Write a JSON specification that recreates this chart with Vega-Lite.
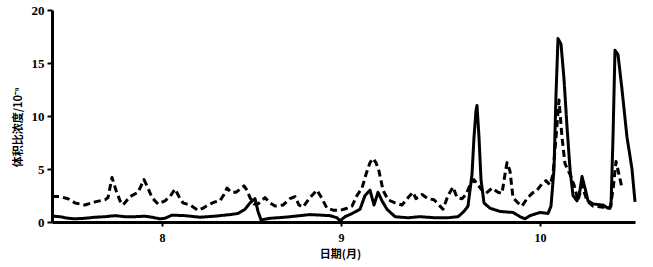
{
  "$schema": "https://vega.github.io/schema/vega-lite/v6.json",
  "autosize": "none",
  "padding": {"left": 52, "top": 10, "right": 18, "bottom": 45},
  "width": 583,
  "height": 212,
  "background": "white",
  "config": {"view": {"stroke": null}},
  "data": {"values": [
    {"s":"a","t":52,"v":0.55},{"s":"a","t":60,"v":0.5},{"s":"a","t":68,"v":0.35},{"s":"a","t":75,"v":0.3},{"s":"a","t":85,"v":0.35},{"s":"a","t":95,"v":0.45},{"s":"a","t":105,"v":0.5},{"s":"a","t":115,"v":0.6},{"s":"a","t":125,"v":0.5},{"s":"a","t":135,"v":0.5},{"s":"a","t":145,"v":0.55},{"s":"a","t":152,"v":0.45},{"s":"a","t":160,"v":0.3},{"s":"a","t":165,"v":0.35},{"s":"a","t":172,"v":0.65},{"s":"a","t":185,"v":0.6},{"s":"a","t":200,"v":0.45},{"s":"a","t":215,"v":0.55},{"s":"a","t":230,"v":0.7},{"s":"a","t":238,"v":0.8},{"s":"a","t":245,"v":1.2},{"s":"a","t":250,"v":1.8},{"s":"a","t":255,"v":2.2},{"s":"a","t":258,"v":1.0},{"s":"a","t":261,"v":0.2},{"s":"a","t":270,"v":0.35},{"s":"a","t":285,"v":0.45},{"s":"a","t":300,"v":0.6},{"s":"a","t":310,"v":0.7},{"s":"a","t":320,"v":0.65},{"s":"a","t":330,"v":0.6},{"s":"a","t":337,"v":0.4},{"s":"a","t":340,"v":0.1},{"s":"a","t":345,"v":0.5},{"s":"a","t":352,"v":0.8},{"s":"a","t":360,"v":1.2},{"s":"a","t":365,"v":2.5},{"s":"a","t":370,"v":3.0},{"s":"a","t":374,"v":1.6},{"s":"a","t":378,"v":2.8},{"s":"a","t":382,"v":2.0},{"s":"a","t":387,"v":1.2},{"s":"a","t":395,"v":0.5},{"s":"a","t":408,"v":0.4},{"s":"a","t":420,"v":0.5},{"s":"a","t":435,"v":0.4},{"s":"a","t":448,"v":0.4},{"s":"a","t":458,"v":0.5},{"s":"a","t":464,"v":1.0},{"s":"a","t":468,"v":1.5},{"s":"a","t":472,"v":4.5},{"s":"a","t":474,"v":8.0},{"s":"a","t":476,"v":10.5},{"s":"a","t":477,"v":11.0},{"s":"a","t":479,"v":8.0},{"s":"a","t":481,"v":4.0},{"s":"a","t":484,"v":1.8},{"s":"a","t":490,"v":1.3},{"s":"a","t":500,"v":1.0},{"s":"a","t":513,"v":0.9},{"s":"a","t":520,"v":0.5},{"s":"a","t":525,"v":0.3},{"s":"a","t":530,"v":0.6},{"s":"a","t":540,"v":0.9},{"s":"a","t":548,"v":0.8},{"s":"a","t":551,"v":1.5},{"s":"a","t":554,"v":5.0},{"s":"a","t":556,"v":12.0},{"s":"a","t":558,"v":17.3},{"s":"a","t":561,"v":16.8},{"s":"a","t":564,"v":13.5},{"s":"a","t":567,"v":9.0},{"s":"a","t":570,"v":5.0},{"s":"a","t":573,"v":2.5},{"s":"a","t":577,"v":2.0},{"s":"a","t":580,"v":3.0},{"s":"a","t":582,"v":4.3},{"s":"a","t":585,"v":3.2},{"s":"a","t":588,"v":2.0},{"s":"a","t":593,"v":1.7},{"s":"a","t":603,"v":1.6},{"s":"a","t":608,"v":1.3},{"s":"a","t":611,"v":1.5},{"s":"a","t":613,"v":8.0},{"s":"a","t":615,"v":16.2},{"s":"a","t":618,"v":15.8},{"s":"a","t":622,"v":12.5},{"s":"a","t":627,"v":8.0},{"s":"a","t":632,"v":5.0},{"s":"a","t":635,"v":1.9},
    {"s":"b","t":52,"v":2.4},{"s":"b","t":60,"v":2.4},{"s":"b","t":68,"v":2.2},{"s":"b","t":75,"v":1.8},{"s":"b","t":85,"v":1.6},{"s":"b","t":95,"v":1.9},{"s":"b","t":105,"v":2.1},{"s":"b","t":108,"v":2.3},{"s":"b","t":112,"v":4.2},{"s":"b","t":116,"v":3.0},{"s":"b","t":120,"v":2.0},{"s":"b","t":123,"v":1.6},{"s":"b","t":130,"v":2.4},{"s":"b","t":138,"v":2.8},{"s":"b","t":144,"v":4.0},{"s":"b","t":148,"v":3.2},{"s":"b","t":152,"v":2.3},{"s":"b","t":158,"v":1.7},{"s":"b","t":165,"v":2.0},{"s":"b","t":170,"v":2.4},{"s":"b","t":175,"v":3.1},{"s":"b","t":179,"v":2.4},{"s":"b","t":183,"v":1.8},{"s":"b","t":190,"v":1.6},{"s":"b","t":198,"v":1.1},{"s":"b","t":203,"v":1.3},{"s":"b","t":208,"v":1.6},{"s":"b","t":215,"v":1.9},{"s":"b","t":220,"v":2.0},{"s":"b","t":224,"v":2.6},{"s":"b","t":227,"v":3.2},{"s":"b","t":231,"v":2.8},{"s":"b","t":236,"v":2.8},{"s":"b","t":240,"v":3.1},{"s":"b","t":244,"v":3.4},{"s":"b","t":247,"v":3.0},{"s":"b","t":250,"v":2.3},{"s":"b","t":254,"v":1.7},{"s":"b","t":258,"v":1.7},{"s":"b","t":265,"v":2.3},{"s":"b","t":270,"v":1.8},{"s":"b","t":275,"v":1.5},{"s":"b","t":283,"v":1.6},{"s":"b","t":290,"v":2.2},{"s":"b","t":295,"v":2.4},{"s":"b","t":299,"v":1.6},{"s":"b","t":303,"v":1.4},{"s":"b","t":310,"v":2.3},{"s":"b","t":317,"v":3.0},{"s":"b","t":322,"v":2.2},{"s":"b","t":327,"v":1.3},{"s":"b","t":334,"v":1.1},{"s":"b","t":340,"v":1.1},{"s":"b","t":347,"v":1.3},{"s":"b","t":352,"v":1.5},{"s":"b","t":357,"v":2.5},{"s":"b","t":362,"v":3.2},{"s":"b","t":366,"v":4.5},{"s":"b","t":370,"v":5.6},{"s":"b","t":373,"v":6.0},{"s":"b","t":376,"v":5.6},{"s":"b","t":379,"v":4.8},{"s":"b","t":383,"v":3.0},{"s":"b","t":388,"v":2.1},{"s":"b","t":395,"v":1.8},{"s":"b","t":402,"v":1.6},{"s":"b","t":409,"v":2.4},{"s":"b","t":413,"v":2.8},{"s":"b","t":416,"v":2.2},{"s":"b","t":422,"v":2.6},{"s":"b","t":428,"v":2.2},{"s":"b","t":434,"v":2.1},{"s":"b","t":440,"v":1.5},{"s":"b","t":443,"v":1.2},{"s":"b","t":448,"v":2.5},{"s":"b","t":453,"v":3.3},{"s":"b","t":457,"v":2.3},{"s":"b","t":462,"v":2.2},{"s":"b","t":466,"v":2.6},{"s":"b","t":470,"v":3.5},{"s":"b","t":474,"v":4.0},{"s":"b","t":478,"v":3.5},{"s":"b","t":482,"v":3.0},{"s":"b","t":486,"v":2.7},{"s":"b","t":492,"v":3.2},{"s":"b","t":498,"v":2.8},{"s":"b","t":502,"v":2.7},{"s":"b","t":505,"v":4.5},{"s":"b","t":507,"v":5.6},{"s":"b","t":510,"v":4.8},{"s":"b","t":513,"v":2.3},{"s":"b","t":518,"v":1.8},{"s":"b","t":522,"v":1.5},{"s":"b","t":527,"v":2.2},{"s":"b","t":532,"v":2.7},{"s":"b","t":537,"v":3.0},{"s":"b","t":542,"v":3.6},{"s":"b","t":546,"v":3.9},{"s":"b","t":550,"v":3.5},{"s":"b","t":553,"v":4.5},{"s":"b","t":556,"v":8.0},{"s":"b","t":559,"v":11.5},{"s":"b","t":562,"v":8.0},{"s":"b","t":565,"v":5.5},{"s":"b","t":570,"v":4.5},{"s":"b","t":574,"v":3.5},{"s":"b","t":578,"v":2.0},{"s":"b","t":582,"v":3.5},{"s":"b","t":587,"v":2.0},{"s":"b","t":593,"v":1.5},{"s":"b","t":603,"v":1.4},{"s":"b","t":610,"v":1.3},{"s":"b","t":613,"v":3.0},{"s":"b","t":616,"v":5.7},{"s":"b","t":619,"v":4.5},{"s":"b","t":622,"v":3.2}
  ]},
  "mark": {"type": "line", "color": "black", "strokeWidth": 3, "strokeJoin": "round"},
  "encoding": {
    "x": {
      "field": "t", "type": "quantitative",
      "scale": {"domain": [52, 635], "nice": false, "zero": false},
      "axis": {
        "values": [162, 341, 540],
        "labelExpr": "datum.value == 162 ? '8' : datum.value == 341 ? '9' : '10'",
        "title": "日期(月)",
        "titleFont": "Noto Sans CJK SC", "titleFontSize": 11, "titleFontWeight": "bold",
        "titleX": 288, "titleY": 32, "titleBaseline": "middle",
        "labelFont": "Times New Roman, Liberation Serif, DejaVu Serif, serif", "labelFontSize": 12, "labelFontWeight": "bold",
        "labelPadding": 6, "labelColor": "black",
        "domainColor": "black", "domainWidth": 3,
        "tickColor": "black", "tickSize": 4, "tickWidth": 2,
        "grid": false
      }
    },
    "y": {
      "field": "v", "type": "quantitative",
      "scale": {"domain": [0, 20], "nice": false},
      "axis": {
        "values": [0, 5, 10, 15, 20],
        "title": "体积比浓度/10⁻⁹",
        "titleFont": "Noto Sans CJK SC", "titleFontSize": 11, "titleFontWeight": "bold",
        "titleX": -34, "titleY": 117, "titleAngle": -90, "titleAlign": "center", "titleBaseline": "middle",
        "labelFont": "Times New Roman, Liberation Serif, DejaVu Serif, serif", "labelFontSize": 13, "labelFontWeight": "bold", "labelColor": "black",
        "labelPadding": 3,
        "domainColor": "black", "domainWidth": 3,
        "tickColor": "black", "tickSize": 5, "tickWidth": 2,
        "grid": false
      }
    },
    "detail": {"field": "s"},
    "strokeDash": {
      "field": "s", "type": "nominal",
      "scale": {"domain": ["a", "b"], "range": [[1, 0], [7, 4]]},
      "legend": null
    }
  }
}
